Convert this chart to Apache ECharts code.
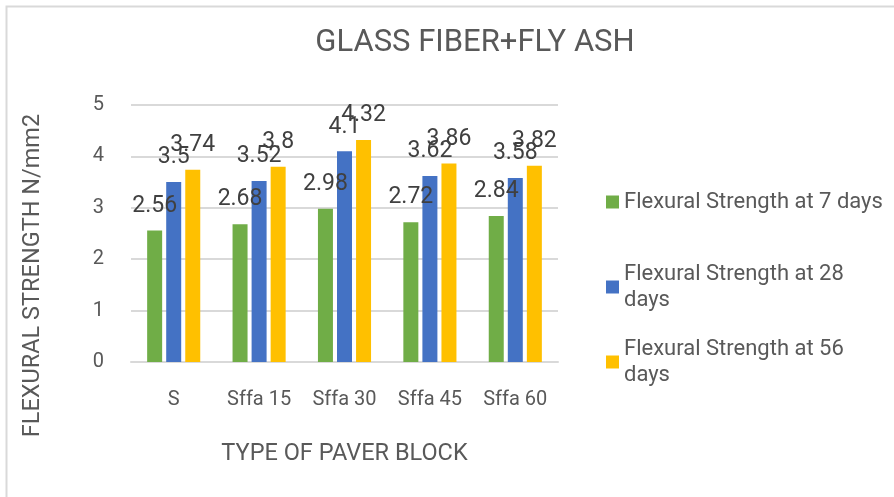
<!DOCTYPE html>
<html>
<head>
<meta charset="utf-8">
<script src="https://cdn.jsdelivr.net/npm/echarts@6/dist/echarts.min.js"></script>
<style>
  html, body { margin: 0; padding: 0; background: #fff; }
  #chart { width: 894px; height: 497px; }
</style>
</head>
<body>
<div id="chart"></div>
<script>
/* ---------- data ---------- */
const categories = ['S', 'Sffa 15', 'Sffa 30', 'Sffa 45', 'Sffa 60'];
const seriesNames = [
  'Flexural Strength at 7 days',
  'Flexural Strength at 28 days',
  'Flexural Strength at 56 days'
];
const days7  = [2.56, 2.68, 2.98, 2.72, 2.84];
const days28 = [3.5, 3.52, 4.1, 3.62, 3.58];
const days56 = [3.74, 3.8, 4.32, 3.86, 3.82];
const yTicks = [0, 1, 2, 3, 4, 5];

const colors = ['#70AD47', '#4472C4', '#FFC000'];
const font = 'Roboto';
const textColor = '#595959';

const chart = echarts.init(document.getElementById('chart'));

function barSeries(name, values, color) {
  return {
    name: name,
    type: 'bar',
    data: values,
    barWidth: 15,
    barGap: '27%',
    itemStyle: { color: color },
    label: {
      show: true,
      position: 'top',
      distance: 13,
      fontFamily: font,
      fontSize: 23,
      color: '#404040'
    }
  };
}

// one legend block per series so each can sit where the original has it
const legendTops = [184, 256, 331];
const legends = seriesNames.map((n, i) => ({
  orient: 'vertical',
  left: 601,
  top: legendTops[i],
  itemWidth: 13,
  itemHeight: 13,
  icon: 'rect',
  data: [n],
  textStyle: {
    fontFamily: font,
    fontSize: 22,
    color: textColor,
    width: 262,
    overflow: 'break',
    lineHeight: 26
  }
}));

chart.setOption({
  backgroundColor: '#fff',
  animation: false,
  graphic: [{
    type: 'rect',
    shape: { x: 6.5, y: 6.5, width: 1000, height: 1000 },
    style: { fill: 'none', stroke: '#D9D9D9', lineWidth: 2 },
    silent: true
  }],
  title: {
    text: 'GLASS FIBER+FLY ASH',
    left: 470,
    top: 23,
    textAlign: 'center',
    textStyle: { fontFamily: font, fontSize: 31, fontWeight: 'normal', color: textColor }
  },
  legend: legends,
  grid: { left: 131, right: 336, top: 105, bottom: 135 },
  xAxis: {
    type: 'category',
    data: categories,
    name: 'TYPE OF PAVER BLOCK',
    nameLocation: 'middle',
    nameGap: 80,
    nameTextStyle: { fontFamily: font, fontSize: 23.5, color: textColor },
    axisTick: { show: false },
    axisLine: { lineStyle: { color: '#D9D9D9', width: 2 } },
    axisLabel: { fontFamily: font, fontSize: 20, color: textColor, margin: 28 }
  },
  yAxis: {
    type: 'value',
    min: yTicks[0],
    max: yTicks[yTicks.length - 1],
    interval: 1,
    name: 'FLEXURAL STRENGTH N/mm2',
    nameLocation: 'middle',
    nameGap: 86,
    nameTextStyle: { fontFamily: font, fontSize: 23.5, color: textColor, padding: [0, 84, 0, 0] },
    axisLine: { show: false },
    axisTick: { show: false },
    splitLine: { lineStyle: { color: '#D9D9D9', width: 2 } },
    axisLabel: { fontFamily: font, fontSize: 20, color: textColor, margin: 27 }
  },
  series: [
    barSeries(seriesNames[0], days7, colors[0]),
    barSeries(seriesNames[1], days28, colors[1]),
    barSeries(seriesNames[2], days56, colors[2])
  ]
});
</script>
</body>
</html>
